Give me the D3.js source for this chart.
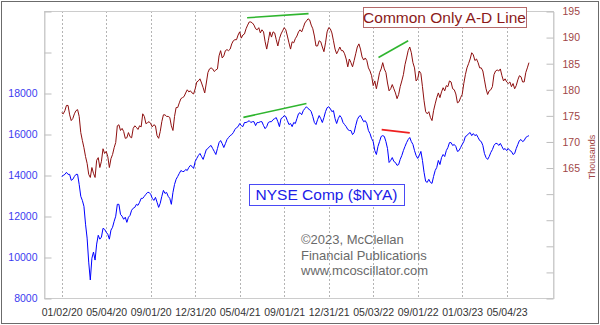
<!DOCTYPE html>
<html>
<head>
<meta charset="utf-8">
<script src="https://cdn.jsdelivr.net/npm/d3@7/dist/d3.min.js"></script>
<style>
  body { margin: 0; background: #fff; }
  svg { display: block; }
  text { font-family: Arial, "Liberation Sans", Helvetica, sans-serif; }
</style>
</head>
<body>
<svg id="chart" width="600" height="325"></svg>
<script>
// Date labels on the session axis (one every 84 trading sessions, first = session 0)
const dateLabels = ["01/02/20", "05/04/20", "09/01/20", "12/31/20", "05/04/21", "09/01/21",
                    "12/31/21", "05/03/22", "09/01/22", "01/03/23", "05/04/23"];
const sessionsPerLabel = 84;
// Both series are sampled every 3 trading sessions starting 01/02/20
const sessionsPerPoint = 3;

// NYSE Composite ($NYA) closes
const nyseComp = [
  13930,13980,14030,14130,14030,14030,13740,13790,13930,14030,
  14030,13540,12960,12760,12470,11600,10920,9750,8880,9940,
  10240,9850,10630,11060,10870,10970,11400,11350,11210,11110,
  10870,11310,11450,11740,11990,12570,12570,12080,11990,11840,
  11940,11690,11940,12030,12280,12380,12420,12570,12520,12670,
  12860,12860,12960,13060,13150,13150,13060,12860,12760,12910,
  12670,12420,12620,12960,13250,13100,13150,12960,12860,12570,
  13150,13540,13790,13930,14080,14220,14170,14170,14270,14220,
  14370,14470,14420,14320,14660,14810,14950,15050,14900,14760,
  15000,15240,15290,15390,15440,15290,15150,15000,15290,15580,
  15680,15530,15340,15530,15730,15830,15920,15970,16070,16220,
  16310,16360,16510,16410,16360,16560,16560,16600,16650,16560,
  16600,16600,16410,16560,16560,16600,16600,16410,16260,16360,
  16560,16600,16600,16700,16750,16800,16600,16360,16750,16800,
  16900,16850,16650,16460,16510,16360,16560,16510,16750,16990,
  17040,16940,17140,17240,17330,17240,17190,17090,16850,16560,
  16460,16700,16900,16750,16560,16800,17090,17280,17330,17240,
  17090,17140,16750,16510,16750,16900,16800,16560,16460,16360,
  16220,16170,16170,15970,16070,16410,16700,16850,16900,16750,
  16600,16650,16510,16170,16020,15780,15630,15190,15000,15390,
  15630,15880,15920,15880,15630,15290,14610,14710,14850,14660,
  14610,14470,14510,14760,14950,15190,15390,15580,15730,15830,
  15630,15490,15190,14950,14810,14950,15150,14710,14130,13690,
  13640,13790,13640,13590,13930,14220,14370,14710,14510,14850,
  15000,14900,15190,15340,15580,15580,15440,15490,15390,15150,
  15190,15340,15490,15630,15880,15920,16020,16070,15920,16020,
  15920,15970,15830,15680,15630,15440,15050,14850,14760,14900,
  15100,15240,15440,15540,15540,15440,15540,15390,15240,15290,
  15190,15290,15190,15150,15000,15050,15290,15490,15680,15730,
  15630,15680,15830,15880,15920
];

// Common Only advance-decline line, in thousands
const adLine = [
  175.5,175.3,175.9,176.9,176.9,175.1,174.0,174.4,175.3,175.9,
  176.1,174.8,171.7,170.2,168.8,167.1,165.8,163.7,163.1,165.0,
  163.9,163.1,166.4,166.9,165.0,166.2,168.6,167.7,168.1,167.1,
  165.0,166.7,167.5,168.8,169.8,173.0,173.2,172.1,172.5,171.9,
  170.6,170.7,171.7,170.9,170.7,172.5,173.0,172.7,172.3,173.0,
  172.8,175.3,174.8,173.4,173.6,173.8,173.4,172.8,173.2,173.0,
  171.1,170.6,171.9,173.8,175.1,175.1,174.8,174.8,174.6,173.0,
  172.1,174.8,176.5,176.5,177.4,178.2,178.4,178.6,179.3,179.9,
  179.5,179.7,179.3,179.1,180.1,181.4,181.6,182.0,181.2,180.3,
  179.3,181.2,183.2,183.9,184.1,183.9,183.4,183.7,183.9,186.4,
  187.4,186.0,186.4,187.4,187.6,187.4,187.7,188.7,189.3,189.5,
  189.5,190.4,191.0,189.8,190.4,190.6,191.6,192.3,192.9,192.9,
  192.7,192.3,191.6,191.4,191.8,190.8,191.4,191.0,189.1,187.7,
  189.3,191.0,190.0,191.0,190.8,189.5,188.3,189.7,190.6,191.2,
  191.8,191.4,190.2,188.9,187.7,189.1,188.9,189.7,190.2,191.0,
  191.4,191.0,191.8,192.7,193.1,193.5,193.3,192.3,191.6,190.2,
  188.3,188.3,189.3,189.1,188.1,187.2,188.9,191.0,191.8,191.6,
  190.8,189.3,187.7,186.8,187.4,188.1,187.4,187.4,186.8,185.8,
  184.3,185.8,185.1,184.3,185.5,186.8,188.1,188.7,187.7,186.2,
  185.6,186.0,185.5,184.1,183.5,182.6,180.7,181.6,180.1,181.6,
  183.2,183.9,185.1,183.9,183.2,181.2,179.7,180.1,180.9,180.1,
  179.3,178.2,179.0,180.5,181.6,182.8,184.7,186.0,187.4,188.1,
  187.0,185.1,184.1,181.6,182.0,183.5,183.0,180.5,177.8,175.7,
  175.3,175.7,174.6,174.0,175.9,177.2,178.4,179.3,178.4,179.5,
  180.3,179.7,180.7,180.5,181.6,181.4,180.1,179.9,179.1,177.4,
  177.6,178.4,179.0,181.1,182.8,184.1,184.9,185.8,187.0,186.6,
  185.5,185.8,185.1,184.1,184.1,183.5,181.8,180.1,179.0,179.7,
  179.9,180.5,182.8,183.5,183.7,183.5,183.9,182.6,181.6,182.0,
  181.4,181.1,181.4,180.5,181.1,180.1,180.7,181.8,182.6,182.4,
  181.4,181.4,183.2,184.1,185.1
];

// Axis ticks
const nyseTicks = [8000, 10000, 12000, 14000, 16000, 18000, 20000, 22000];
const nyseTickLabels = [8000, 10000, 12000, 14000, 16000, 18000];
const adTicks = [140, 145, 150, 155, 160, 165, 170, 175, 180, 185, 190, 195];
const adTickLabels = [165, 170, 175, 180, 185, 190, 195];

// Divergence trend lines: [session, value] end points
const adRisingTrends = [
  [[350, 193.7], [466, 194.5]],
  [[598, 186.1], [654, 189.3]]
];
const nyseRisingTrends = [
  [[343, 16810], [462, 17490]]
];
const nyseFallingTrends = [
  [[604, 16215], [657, 16055]]
];

const seriesTitles = { ad: "Common Only A-D Line", nyse: "NYSE Comp ($NYA)" };
const creditLines = ["\u00A92023, McClellan", "Financial Publications", "www.mcoscillator.com"];

// ---- layout ----
const W = 600, H = 325;
const plot = { left: 44, right: 553, top: 11, bottom: 298 };

const svg = d3.select("#chart");

const x = d3.scaleLinear().domain([-33.4, 927.4]).range([plot.left, plot.right]);
const yN = d3.scaleLinear().domain([8000, 22000]).range([plot.bottom, plot.top]);
const yA = d3.scaleLinear().domain([140, 195]).range([plot.bottom, plot.top]);

const crisp = v => Math.round(v) + 0.5;

// outer frame
svg.append("rect")
  .attr("x", 1.5).attr("y", 1.5).attr("width", W - 3).attr("height", H - 3)
  .attr("fill", "#fff").attr("stroke", "#6b6b6b").attr("stroke-width", 1);

// vertical dashed date gridlines
const labelSessions = dateLabels.map((d, i) => i * sessionsPerLabel);
svg.append("g").selectAll("line").data(labelSessions).join("line")
  .attr("x1", d => crisp(x(d))).attr("x2", d => crisp(x(d)))
  .attr("y1", plot.top).attr("y2", plot.bottom)
  .attr("stroke", "#b4b4b4").attr("stroke-width", 1)
  .attr("stroke-dasharray", "2,2");

// plot frame
svg.append("rect")
  .attr("x", plot.left + 0.5).attr("y", plot.top + 0.5)
  .attr("width", plot.right - plot.left).attr("height", plot.bottom - plot.top)
  .attr("fill", "none").attr("stroke", "#cccccc");

// left axis (NYSE)
const axL = d3.axisLeft(yN).tickValues(nyseTicks).tickSizeInner(-7).tickSizeOuter(0).tickPadding(7)
  .tickFormat(d => nyseTickLabels.includes(d) ? String(d) : "");
const gL = svg.append("g").attr("transform", `translate(${plot.left + 0.5},0.5)`).call(axL);
gL.select(".domain").attr("stroke", "#cccccc");
gL.selectAll(".tick line").attr("stroke", "#bdbdbd");
gL.selectAll(".tick text").attr("fill", "#3b3bf0").attr("font-size", 10.5)
  .attr("font-family", "Arial, 'Liberation Sans', sans-serif");

// right axis (A-D line, thousands)
const axR = d3.axisRight(yA).tickValues(adTicks).tickSizeInner(-7).tickSizeOuter(0).tickPadding(9)
  .tickFormat(d => adTickLabels.includes(d) ? String(d) : "");
const gR = svg.append("g").attr("transform", `translate(${plot.right + 0.5},0.5)`).call(axR);
gR.select(".domain").attr("stroke", "#cccccc");
gR.selectAll(".tick line").attr("stroke", "#bdbdbd");
gR.selectAll(".tick text").attr("fill", "#a04646").attr("font-size", 10.5)
  .attr("font-family", "Arial, 'Liberation Sans', sans-serif");

svg.append("text")
  .attr("transform", `translate(594.5,157) rotate(-90)`)
  .attr("text-anchor", "middle")
  .attr("font-size", 9).attr("fill", "#a04646")
  .text("Thousands");

// bottom axis (dates)
const axB = d3.axisBottom(x).tickValues(labelSessions).tickSize(0).tickPadding(10)
  .tickFormat((d, i) => dateLabels[i]);
const gB = svg.append("g").attr("transform", `translate(0,${plot.bottom + 0.5})`).call(axB);
gB.select(".domain").remove();
gB.selectAll(".tick text").attr("fill", "#333").attr("font-size", 10.5)
  .attr("font-family", "Arial, 'Liberation Sans', sans-serif");

// series lines
const lineN = d3.line().x((d, i) => x(i * sessionsPerPoint)).y(d => yN(d));
const lineA = d3.line().x((d, i) => x(i * sessionsPerPoint)).y(d => yA(d));

svg.append("path").datum(adLine)
  .attr("d", lineA).attr("fill", "none")
  .attr("stroke", "#8e0f0f").attr("stroke-width", 1).attr("stroke-linejoin", "round");

svg.append("path").datum(nyseComp)
  .attr("d", lineN).attr("fill", "none")
  .attr("stroke", "#0000ff").attr("stroke-width", 1).attr("stroke-linejoin", "round");

// trend lines
const trendA = d3.line().x(d => x(d[0])).y(d => yA(d[1]));
const trendN = d3.line().x(d => x(d[0])).y(d => yN(d[1]));
svg.append("g").selectAll("path").data(adRisingTrends).join("path")
  .attr("d", trendA).attr("stroke", "#2fb52f").attr("stroke-width", 1.6).attr("fill", "none");
svg.append("g").selectAll("path").data(nyseRisingTrends).join("path")
  .attr("d", trendN).attr("stroke", "#2fb52f").attr("stroke-width", 1.6).attr("fill", "none");
svg.append("g").selectAll("path").data(nyseFallingTrends).join("path")
  .attr("d", trendN).attr("stroke", "#ee2020").attr("stroke-width", 1.6).attr("fill", "none");

// series titles in boxes
function titleBox(label, bx, by, bw, bh, color, border) {
  svg.append("rect")
    .attr("x", bx + 0.5).attr("y", by + 0.5).attr("width", bw).attr("height", bh)
    .attr("fill", "#fff").attr("stroke", border).attr("stroke-width", 1);
  svg.append("text")
    .attr("x", bx + bw / 2).attr("y", by + bh / 2 + 5.5)
    .attr("text-anchor", "middle")
    .attr("font-size", 15.5).attr("fill", color)
    .text(label);
}
titleBox(seriesTitles.ad, 363, 7, 163, 20, "#8b1a1a", "#b46a6a");
titleBox(seriesTitles.nyse, 249, 184, 155, 21, "#2020e8", "#4a4af5");

// credit block
svg.append("g").selectAll("text").data(creditLines).join("text")
  .attr("x", 301).attr("y", (d, i) => 244 + i * 15.5)
  .attr("font-size", 13).attr("fill", "#6a6a6a")
  .text(d => d);
</script>
</body>
</html>
